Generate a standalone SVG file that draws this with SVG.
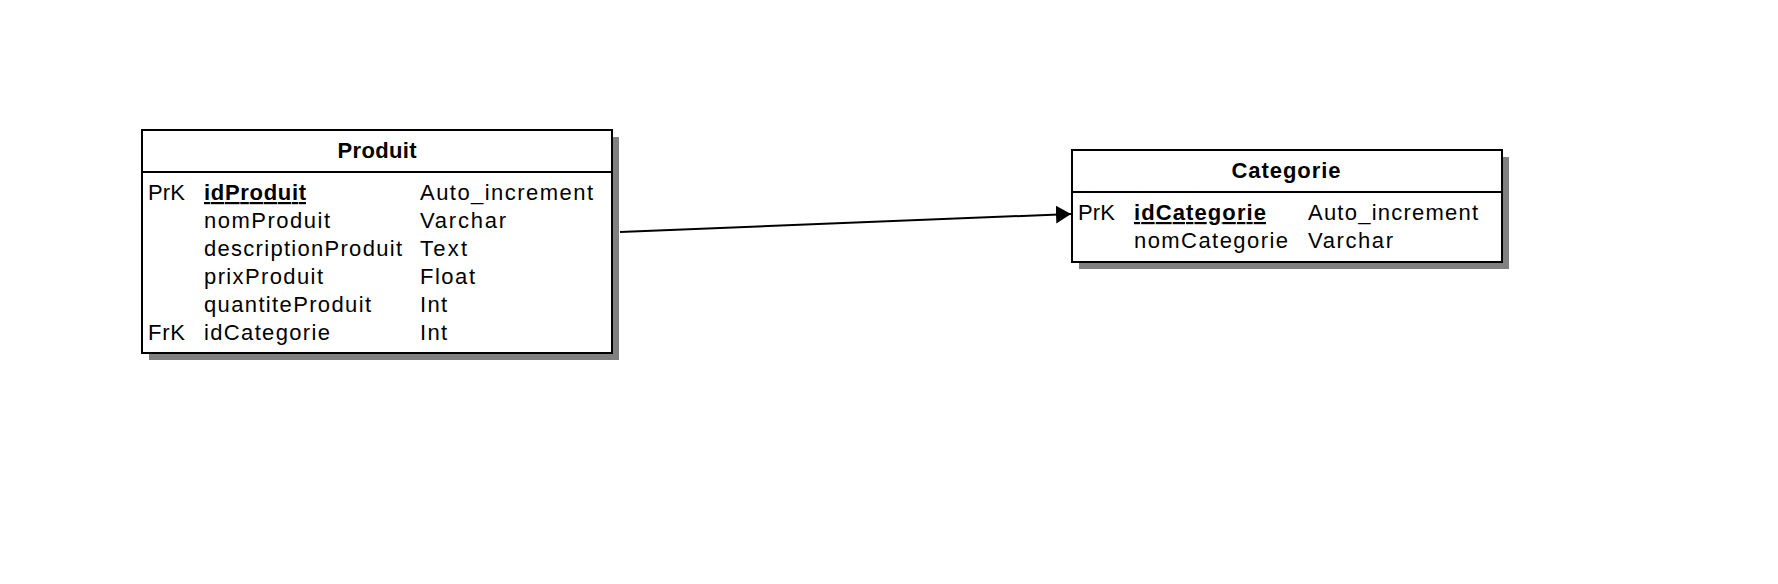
<svg xmlns="http://www.w3.org/2000/svg" width="1778" height="584" viewBox="0 0 1778 584">
<defs>
<style>
text{font-family:"Liberation Sans",Arial,sans-serif;font-size:22px;fill:#000}
.h{font-weight:bold;text-anchor:middle}
.k{font-weight:bold;text-decoration:underline}
.box{fill:#fff;stroke:#000;stroke-width:2}
.sh{fill:#808080}
.sep{stroke:#000;stroke-width:2}
.conn{stroke:#000;stroke-width:2;fill:none}
</style>
<marker id="arr" markerWidth="16" markerHeight="18" refX="15" refY="9" orient="auto" markerUnits="userSpaceOnUse">
<path d="M0,0 L15,9 L0,18 Z" fill="#000"/>
</marker>
</defs>
<rect width="1778" height="584" fill="#fff"/>
<g id="connectors">
<line class="conn" x1="620" y1="232" x2="1071" y2="214" marker-end="url(#arr)"/>
</g>
<g id="produit">
<rect class="sh" x="149" y="137" width="470" height="223"/>
<rect class="box" x="142" y="130" width="470" height="223"/>
<line class="sep" x1="142" y1="172" x2="612" y2="172"/>
<text class="h" x="377" y="158" textLength="79" lengthAdjust="spacing">Produit</text>
<text x="148" y="200" textLength="37" lengthAdjust="spacing">PrK</text>
<text class="k" x="204" y="200" textLength="102" lengthAdjust="spacing">idProduit</text>
<text x="420" y="200" textLength="173" lengthAdjust="spacing">Auto_increment</text>
<text x="204" y="228" textLength="126" lengthAdjust="spacing">nomProduit</text>
<text x="420" y="228" textLength="86" lengthAdjust="spacing">Varchar</text>
<text x="204" y="256" textLength="198" lengthAdjust="spacing">descriptionProduit</text>
<text x="420" y="256" textLength="47" lengthAdjust="spacing">Text</text>
<text x="204" y="284" textLength="119" lengthAdjust="spacing">prixProduit</text>
<text x="420" y="284" textLength="55" lengthAdjust="spacing">Float</text>
<text x="204" y="312" textLength="167" lengthAdjust="spacing">quantiteProduit</text>
<text x="420" y="312" textLength="27" lengthAdjust="spacing">Int</text>
<text x="148" y="340" textLength="37" lengthAdjust="spacing">FrK</text>
<text x="204" y="340" textLength="126" lengthAdjust="spacing">idCategorie</text>
<text x="420" y="340" textLength="27" lengthAdjust="spacing">Int</text>
</g>
<g id="categorie">
<rect class="sh" x="1079" y="157" width="430" height="112"/>
<rect class="box" x="1072" y="150" width="430" height="112"/>
<line class="sep" x1="1072" y1="192" x2="1502" y2="192"/>
<text class="h" x="1286" y="178" textLength="109" lengthAdjust="spacing">Categorie</text>
<text x="1078" y="220" textLength="37" lengthAdjust="spacing">PrK</text>
<text class="k" x="1134" y="220" textLength="132" lengthAdjust="spacing">idCategorie</text>
<text x="1308" y="220" textLength="170" lengthAdjust="spacing">Auto_increment</text>
<text x="1134" y="248" textLength="154" lengthAdjust="spacing">nomCategorie</text>
<text x="1308" y="248" textLength="85" lengthAdjust="spacing">Varchar</text>
</g>
</svg>
